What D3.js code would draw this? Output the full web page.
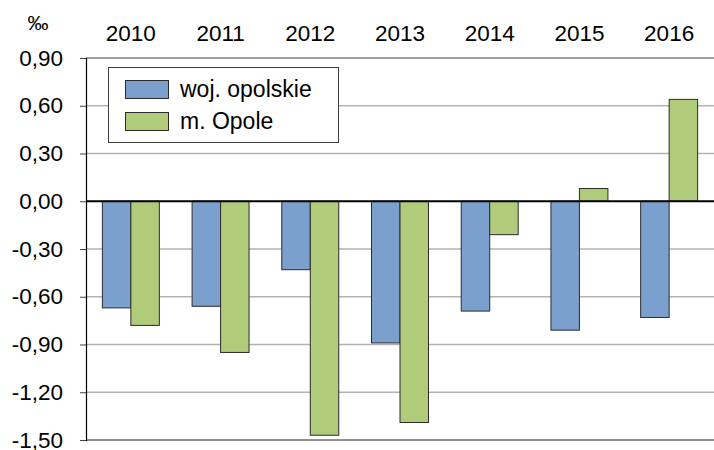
<!DOCTYPE html>
<html>
<head>
<meta charset="utf-8">
<script src="https://cdn.jsdelivr.net/npm/d3@7"></script>
<style>
  body { margin: 0; background: #fff; }
  svg { display: block; font-family: "Liberation Sans", Arial, sans-serif; }
</style>
</head>
<body>
<svg id="chart" width="714" height="450"></svg>
<script>
// data
const years = ["2010", "2011", "2012", "2013", "2014", "2015", "2016"];
const seriesNames = ["woj. opolskie", "m. Opole"];
const wojValues = [-0.67, -0.66, -0.43, -0.89, -0.69, -0.81, -0.73];
const opoleValues = [-0.78, -0.95, -1.47, -1.39, -0.21, 0.08, 0.64];
const yTicks = [0.9, 0.6, 0.3, 0, -0.3, -0.6, -0.9, -1.2, -1.5];
const colors = ["#7ba0cd", "#b0cb7a"];

const svg = d3.select("#chart");
const plotLeft = 86, plotRight = 714, plotTop = 58, plotBottom = 440;

const x = d3.scaleBand().domain(years).range([plotLeft, plotRight]).paddingInner(0.365).paddingOuter(0.1825);
const sub = d3.scaleBand().domain(seriesNames).range([0, x.bandwidth()]);
const y = d3.scaleLinear().domain([-1.5, 0.9]).range([plotBottom, plotTop]);

const fmt = v => d3.format(".2f")(v).replace(".", ",").replace("−", "-");

// gridlines
svg.append("g").selectAll("line")
    .data(yTicks.filter(t => t !== 0 && t !== 0.9 && t !== -1.5))
    .enter().append("line")
    .attr("x1", plotLeft).attr("x2", plotRight)
    .attr("y1", d => y(d)).attr("y2", d => y(d))
    .attr("stroke", "#b3b3b3").attr("stroke-width", 1.5);

// top and bottom frame lines
svg.append("line").attr("x1", plotLeft).attr("x2", plotRight).attr("y1", y(0.9)).attr("y2", y(0.9))
    .attr("stroke", "#404040").attr("stroke-width", 1.2);
svg.append("line").attr("x1", plotLeft).attr("x2", plotRight).attr("y1", y(-1.5)).attr("y2", y(-1.5))
    .attr("stroke", "#6e6e6e").attr("stroke-width", 1.5);

// bars
const series = [wojValues, opoleValues];
series.forEach((vals, si) => {
    svg.append("g").selectAll("rect")
        .data(vals)
        .enter().append("rect")
        .attr("x", (d, i) => x(years[i]) + sub(seriesNames[si]))
        .attr("y", d => y(Math.max(0, d)))
        .attr("width", sub.bandwidth())
        .attr("height", d => Math.abs(y(d) - y(0)))
        .attr("fill", colors[si])
        .attr("stroke", "#2b2b2b")
        .attr("stroke-width", 1);
});

// zero line
svg.append("line").attr("x1", plotLeft).attr("x2", plotRight).attr("y1", y(0)).attr("y2", y(0))
    .attr("stroke", "#000").attr("stroke-width", 2);

// y axis
const yAxis = d3.axisLeft(y).tickValues(yTicks).tickSize(6).tickPadding(17).tickFormat(fmt);
const ya = svg.append("g").attr("transform", `translate(${plotLeft},0)`).call(yAxis);
ya.select(".domain").attr("stroke", "#000").attr("stroke-width", 1.2);
ya.selectAll(".tick line").attr("stroke", "#404040");
ya.selectAll(".tick text").attr("font-size", 22.5).attr("fill", "#000")
    .attr("font-family", "Liberation Sans, Arial, sans-serif");

// year labels on top
svg.append("g").selectAll("text")
    .data(years)
    .enter().append("text")
    .attr("x", d => x(d) + x.bandwidth() / 2)
    .attr("y", 41)
    .attr("text-anchor", "middle")
    .attr("font-size", 22.5)
    .text(d => d);

// unit
svg.append("text").attr("x", 38).attr("y", 30).attr("text-anchor", "middle")
    .attr("font-size", 21).text("‰");

// legend
const lg = svg.append("g");
lg.append("rect").attr("x", 108.5).attr("y", 67.5).attr("width", 230).attr("height", 75)
    .attr("fill", "#fff").attr("stroke", "#404040").attr("stroke-width", 1);
seriesNames.forEach((name, i) => {
    lg.append("rect").attr("x", 125.5).attr("y", 80.5 + i * 32).attr("width", 43).attr("height", 18)
        .attr("fill", colors[i]).attr("stroke", "#2b2b2b");
    lg.append("text").attr("x", 180).attr("y", 97 + i * 32).attr("font-size", 23).text(name);
});
</script>
</body>
</html>
